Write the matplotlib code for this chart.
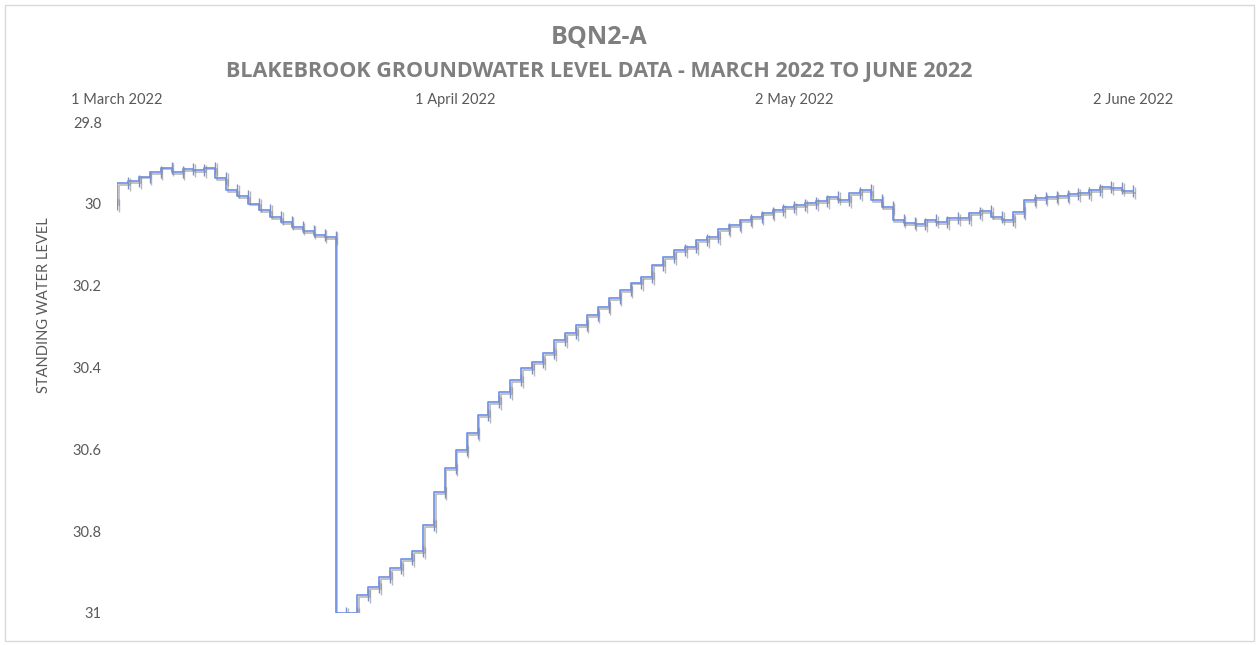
import matplotlib
matplotlib.use("Agg")
import matplotlib.pyplot as plt
import matplotlib.patheffects as pe
from matplotlib.patches import Rectangle
import pandas as pd

# ---- data ----
start_date = "2022-03-01"
levels = [
    30.000, 29.949, 29.944, 29.934, 29.922, 29.912, 29.922, 29.915, 29.917, 29.912,
    29.937, 29.966, 29.981, 30.000, 30.015, 30.032, 30.044, 30.057, 30.066, 30.076,
    30.081, 31.000, 31.000, 30.956, 30.937, 30.912, 30.890, 30.868, 30.849, 30.785,
    30.704, 30.646, 30.602, 30.560, 30.516, 30.484, 30.460, 30.431, 30.401, 30.387,
    30.365, 30.333, 30.316, 30.296, 30.272, 30.252, 30.230, 30.211, 30.193, 30.179,
    30.149, 30.130, 30.113, 30.106, 30.088, 30.081, 30.062, 30.052, 30.040, 30.032,
    30.022, 30.015, 30.008, 30.003, 29.998, 29.993, 29.983, 29.991, 29.974, 29.966,
    29.991, 30.008, 30.040, 30.047, 30.049, 30.040, 30.044, 30.035, 30.035, 30.022,
    30.018, 30.032, 30.040, 30.020, 29.991, 29.986, 29.983, 29.981, 29.976, 29.974,
    29.966, 29.959, 29.961, 29.969,
]
tick_dates = ["2022-03-01", "2022-04-01", "2022-05-02", "2022-06-02"]
tick_labels = ["1 March 2022", "1 April 2022", "2 May 2022", "2 June 2022"]
y_ticks = [29.8, 30.0, 30.2, 30.4, 30.6, 30.8, 31.0]
y_tick_labels = ["29.8", "30", "30.2", "30.4", "30.6", "30.8", "31"]
title = "BQN2-A"
subtitle = "BLAKEBROOK GROUNDWATER LEVEL DATA - MARCH 2022 TO JUNE 2022"
y_label = "STANDING WATER LEVEL"

dates = pd.date_range(start_date, periods=len(levels), freq="D")

plt.rcParams["font.family"] = ["Lato", "DejaVu Sans"]

W, H = 1259, 645
fig = plt.figure(figsize=(W / 100, H / 100), dpi=100)
fig.patch.set_facecolor("white")

# outer chart border
fig.patches.append(Rectangle((5 / W, 4 / H), 1249 / W, 636 / H, transform=fig.transFigure,
                             fill=False, edgecolor="#d9d9d9", linewidth=1.0))

left = 117 / W
right = 1144 / W
top = 1 - 122 / H
bottom = 1 - 613 / H
ax = fig.add_axes([left, bottom, right - left, top - bottom])

line_color = "#6b8ee8"
ax.plot(dates, levels, drawstyle="steps-pre", color=line_color, linewidth=1.2,
        marker="|", markersize=9, markeredgewidth=1.0, markeredgecolor="#7d8fc8",
        path_effects=[pe.SimpleLineShadow(offset=(1.2, -1.2), shadow_color="#8a8a8a", alpha=0.6),
                      pe.Normal()])

ax.set_ylim(31.0, 29.8)
ax.set_xlim(pd.Timestamp("2022-03-01"), pd.Timestamp("2022-06-03"))
ax.set_yticks(y_ticks)
ax.set_yticklabels(y_tick_labels)
ax.set_xticks([pd.Timestamp(d) for d in tick_dates])
ax.set_xticklabels(tick_labels)
ax.xaxis.tick_top()
ax.tick_params(axis="both", length=0, labelsize=10.5, colors="#595959")
ax.tick_params(axis="y", pad=11)
ax.tick_params(axis="x", pad=11)
for s in ax.spines.values():
    s.set_visible(False)
ax.set_facecolor("none")

title_font = ["Open Sans", "DejaVu Sans"]
fig.text(599 / W, 1 - 38 / H, title, ha="center", va="center", fontsize=18,
         fontweight="bold", color="#7f7f7f", family=title_font)
fig.text(599 / W, 1 - 71 / H, subtitle, ha="center", va="center", fontsize=15.5,
         fontweight="bold", color="#7f7f7f", family=title_font)
fig.text(44 / W, 1 - 305 / H, y_label, ha="center", va="center", rotation=90,
         fontsize=10.5, color="#595959")

fig.savefig("out.png", dpi=100, facecolor="white")
